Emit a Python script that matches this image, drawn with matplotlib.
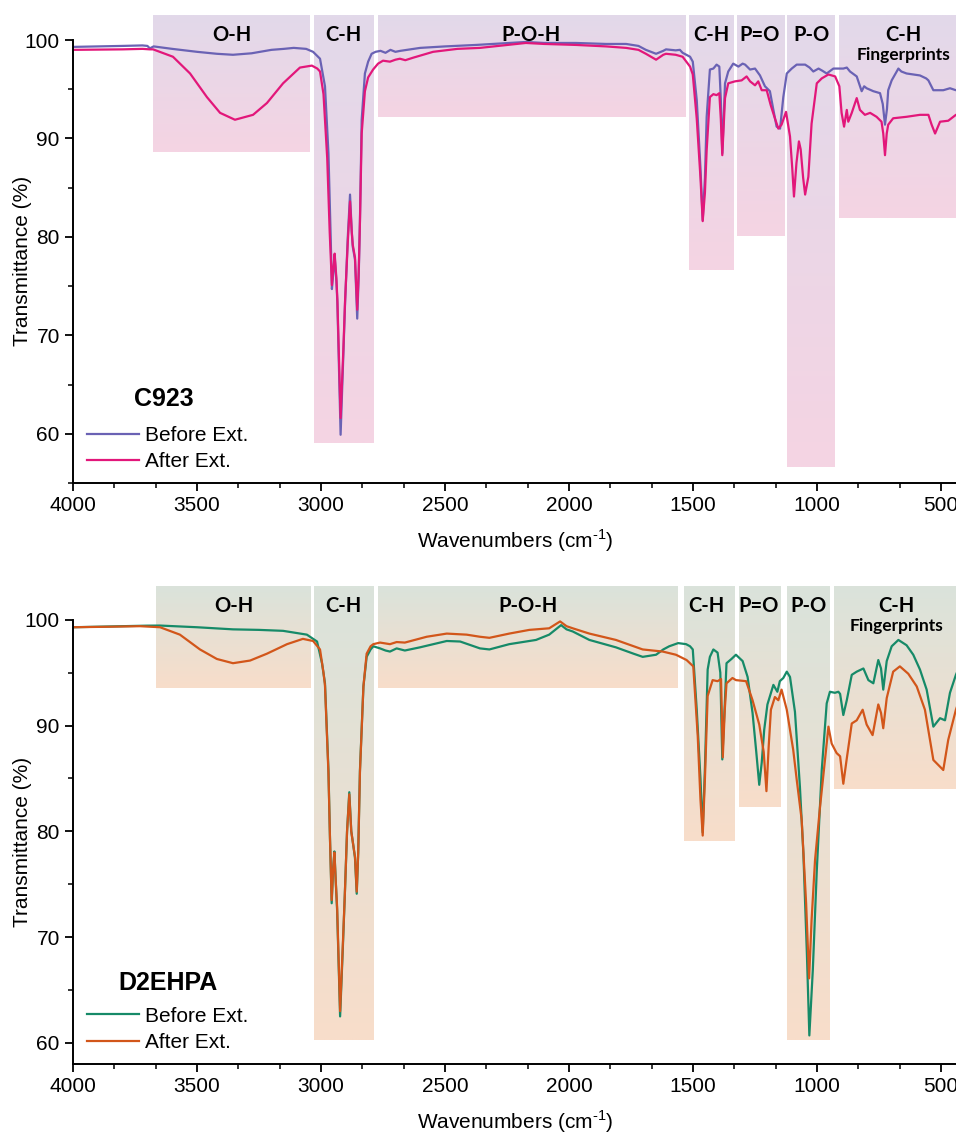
import numpy as np
import matplotlib
matplotlib.use("Agg")
import matplotlib.pyplot as plt
from matplotlib.ticker import MultipleLocator, AutoMinorLocator
from matplotlib.colors import to_rgb

plt.rcParams['font.family'] = ['Liberation Sans', 'DejaVu Sans']
plt.rcParams['mathtext.fontset'] = 'custom'
plt.rcParams['mathtext.rm'] = 'Liberation Sans'

# ---- C923 spectra (wavenumber, transmittance) ----
c923_before_wn = [4000, 3900, 3800, 3720, 3700, 3690, 3675, 3600, 3500, 3420, 3355, 3280, 3200, 3150,
                  3110, 3060, 3032, 3004, 2984, 2970, 2961, 2956, 2950, 2945, 2938, 2934, 2921, 2910,
                  2903, 2892, 2883, 2876, 2872, 2863, 2854, 2848, 2843, 2836, 2823, 2810, 2796, 2780,
                  2760, 2740, 2720, 2700, 2680, 2600, 2500, 2375, 2174, 2100, 1972, 1850, 1770, 1720,
                  1690, 1649, 1620, 1609, 1570, 1553, 1542, 1512, 1501, 1485, 1470, 1461, 1452, 1445,
                  1432, 1418, 1405, 1394, 1388, 1382, 1375, 1371, 1358, 1338, 1317, 1300, 1290, 1270,
                  1250, 1230, 1210, 1190, 1176, 1163, 1149, 1136, 1122, 1102, 1082, 1048, 1030, 1015,
                  994, 980, 961, 934, 894, 880, 867, 840, 820, 810, 800, 773, 746, 735, 726, 718, 713,
                  699, 672, 660, 639, 585, 560, 551, 531, 491, 464, 440, 425]
c923_before_t = [99.3, 99.35, 99.4, 99.45, 99.4, 99.15, 99.35, 99.1, 98.8, 98.6, 98.5, 98.65, 99.0, 99.1,
                 99.2, 99.1, 98.8, 98.1, 95.3, 88.5, 80.0, 74.7, 76.5, 78.0, 75.5, 73.3, 59.9, 68.0,
                 73.3, 80.0, 84.3, 80.5, 79.0, 77.7, 71.7, 76.0, 81.7, 91.9, 96.6, 97.8, 98.6, 98.8,
                 98.9, 98.7, 99.0, 98.8, 98.9, 99.2, 99.35, 99.5, 99.8, 99.7, 99.7, 99.6, 99.6, 99.4,
                 99.0, 98.6, 98.9, 99.05, 98.95, 99.0, 98.7, 98.3, 97.8, 93.9, 87.0, 81.7, 86.0, 92.2,
                 97.0, 97.1, 97.5, 97.3, 94.0, 88.5, 93.0, 95.6, 96.8, 97.6, 97.3, 97.6, 97.5, 97.0,
                 97.1, 96.4, 95.3, 94.8, 92.9, 91.2, 91.0, 94.2, 96.6, 97.1, 97.5, 97.5, 97.2, 96.8,
                 97.1, 96.9, 96.6, 97.1, 97.1, 97.2, 96.8, 96.3, 94.8, 95.3, 95.1, 94.8, 94.6, 93.5,
                 91.4, 93.0, 94.9, 95.9, 97.1, 96.8, 96.6, 96.4, 96.1, 95.9, 94.9, 94.9, 95.1, 94.9, 95.0]

c923_after_wn = [4000, 3800, 3720, 3690, 3677, 3597, 3528, 3460, 3407, 3347, 3274, 3218, 3153, 3085,
                 3037, 3015, 3004, 2990, 2975, 2965, 2956, 2950, 2945, 2938, 2934, 2921, 2910, 2903,
                 2892, 2883, 2876, 2872, 2863, 2854, 2848, 2843, 2836, 2823, 2810, 2790, 2770, 2750,
                 2722, 2700, 2682, 2660, 2629, 2548, 2450, 2359, 2174, 2100, 1972, 1850, 1770, 1720,
                 1690, 1649, 1620, 1609, 1570, 1542, 1512, 1501, 1485, 1470, 1461, 1452, 1445, 1432,
                 1418, 1405, 1394, 1388, 1382, 1375, 1371, 1358, 1331, 1304, 1284, 1270, 1250, 1237,
                 1223, 1203, 1187, 1170, 1156, 1143, 1125, 1109, 1100, 1093, 1083, 1073, 1066, 1056,
                 1048, 1035, 1022, 1001, 981, 954, 927, 910, 901, 891, 880, 874, 860, 840, 827, 807,
                 786, 760, 740, 733, 726, 719, 713, 693, 639, 585, 551, 538, 524, 504, 471, 440, 425]
c923_after_t = [99.0, 99.05, 99.1, 99.05, 99.05, 98.3, 96.6, 94.2, 92.6, 91.9, 92.4, 93.6, 95.6, 97.2,
                97.4, 97.1, 96.8, 94.5, 88.0, 80.5, 75.1, 77.0, 78.3, 75.8, 73.6, 61.6, 68.5, 73.5,
                79.5, 83.6, 80.5, 79.2, 77.9, 72.6, 76.5, 81.5, 90.5, 94.8, 96.2, 97.0, 97.6, 97.9,
                97.8, 98.0, 98.1, 97.95, 98.2, 98.8, 99.1, 99.2, 99.7, 99.6, 99.5, 99.35, 99.2, 99.0,
                98.6, 98.0, 98.5, 98.6, 98.5, 98.3, 97.3, 96.5, 92.0, 86.0, 81.6, 84.5, 88.8, 94.2,
                94.5, 94.4, 94.6, 92.0, 88.3, 92.0, 94.1, 95.6, 95.8, 95.9, 96.3, 95.8, 95.4, 95.8,
                94.9, 94.9, 93.4, 92.05, 91.0, 91.4, 92.7, 90.2, 87.0, 84.1, 87.5, 89.7, 88.9, 86.0,
                84.3, 86.1, 91.5, 95.6, 96.1, 96.5, 96.3, 95.3, 92.6, 91.2, 92.9, 91.7, 92.6, 94.1,
                92.9, 92.4, 92.6, 92.2, 91.7, 90.5, 88.3, 90.5, 91.4, 92.05, 92.2, 92.4, 92.4, 91.4,
                90.5, 91.7, 91.8, 92.4, 92.5]

# ---- D2EHPA spectra ----
d2_before_wn = [4000, 3900, 3800, 3700, 3649, 3500, 3355, 3250, 3153, 3057, 3016, 2996, 2984, 2970,
                2964, 2957, 2951, 2946, 2940, 2935, 2923, 2912, 2904, 2895, 2886, 2878, 2870, 2863,
                2856, 2850, 2843, 2829, 2816, 2800, 2789, 2762, 2740, 2722, 2695, 2662, 2601, 2493,
                2439, 2359, 2321, 2241, 2133, 2080, 2032, 2010, 1985, 1918, 1811, 1740, 1703, 1649,
                1620, 1596, 1560, 1528, 1512, 1501, 1485, 1470, 1461, 1452, 1441, 1432, 1418, 1401,
                1390, 1382, 1372, 1365, 1345, 1327, 1300, 1280, 1260, 1245, 1233, 1223, 1213, 1200,
                1176, 1160, 1150, 1136, 1122, 1109, 1089, 1069, 1055, 1041, 1031, 1017, 1001, 981,
                961, 948, 928, 914, 907, 894, 880, 860, 840, 813, 793, 773, 753, 742, 733, 719, 699,
                672, 639, 612, 585, 558, 531, 504, 484, 464, 440, 425]
d2_before_t = [99.3, 99.35, 99.4, 99.45, 99.46, 99.3, 99.1, 99.05, 98.96, 98.6, 97.95, 95.9, 94.0, 85.8,
               79.5, 73.2, 76.5, 78.1, 75.0, 72.5, 62.5, 69.0, 74.0, 80.0, 83.7, 80.0, 78.7, 77.5,
               74.1, 78.0, 85.8, 93.7, 96.5, 97.2, 97.5, 97.3, 97.1, 97.0, 97.3, 97.1, 97.4, 98.0,
               97.95, 97.3, 97.2, 97.7, 98.1, 98.6, 99.5, 99.1, 98.9, 98.1, 97.4, 96.8, 96.5, 96.7,
               97.2, 97.5, 97.8, 97.7, 97.5, 97.2, 91.5, 85.0, 79.9, 86.0, 95.3, 96.5, 97.2, 96.9,
               95.0, 86.8, 92.0, 95.9, 96.3, 96.7, 96.1, 94.6, 91.2, 87.5, 84.4, 86.5, 89.6, 92.0,
               93.85, 93.2, 94.2, 94.5, 95.1, 94.6, 91.3, 84.2, 77.9, 68.5, 60.7, 66.9, 76.3, 85.8,
               92.1, 93.2, 93.1, 93.2, 93.0, 91.0, 92.4, 94.8, 95.1, 95.4, 94.3, 94.0, 96.2, 95.4,
               93.4, 96.1, 97.5, 98.1, 97.6, 96.7, 95.3, 93.4, 89.9, 90.7, 90.5, 93.1, 94.8, 95.6]

d2_after_wn = [4000, 3850, 3730, 3649, 3569, 3488, 3420, 3355, 3286, 3218, 3137, 3073, 3032, 3004,
               2990, 2984, 2970, 2964, 2957, 2951, 2946, 2940, 2935, 2923, 2912, 2904, 2895, 2886,
               2878, 2870, 2863, 2856, 2850, 2843, 2829, 2816, 2800, 2789, 2762, 2722, 2695, 2662,
               2574, 2493, 2413, 2359, 2321, 2241, 2160, 2080, 2036, 2010, 1985, 1918, 1811, 1703,
               1622, 1569, 1526, 1499, 1481, 1470, 1461, 1452, 1441, 1421, 1401, 1387, 1380, 1372,
               1365, 1341, 1327, 1286, 1260, 1233, 1215, 1204, 1195, 1186, 1170, 1156, 1143, 1122,
               1096, 1082, 1062, 1044, 1032, 1022, 1008, 988, 968, 954, 941, 921, 907, 894, 880, 860,
               840, 816, 800, 776, 753, 742, 733, 719, 693, 666, 632, 598, 565, 531, 491, 471, 440,
               425]
d2_after_t = [99.3, 99.35, 99.4, 99.3, 98.6, 97.2, 96.3, 95.9, 96.15, 96.8, 97.7, 98.2, 98.0, 97.2,
              95.0, 93.8, 85.5, 79.5, 73.5, 76.5, 78.0, 75.0, 72.8, 63.0, 69.3, 74.0, 80.0, 83.5,
              80.0, 78.7, 77.6, 74.3, 78.0, 85.6, 93.7, 96.8, 97.5, 97.7, 97.85, 97.7, 97.9, 97.85,
              98.4, 98.7, 98.6, 98.4, 98.3, 98.7, 99.05, 99.2, 99.85, 99.4, 99.2, 98.7, 98.1, 97.2,
              97.0, 96.7, 96.2, 95.6, 89.0, 83.0, 79.6, 85.0, 92.8, 94.3, 94.2, 94.4, 87.0, 91.5,
              94.0, 94.5, 94.3, 94.2, 92.4, 90.1, 87.5, 83.8, 88.0, 91.5, 92.7, 92.4, 93.4, 91.5,
              87.7, 84.9, 81.1, 73.2, 66.1, 71.6, 77.3, 82.3, 86.75, 89.9, 88.3, 87.4, 87.1, 84.5,
              86.9, 90.2, 90.5, 91.5, 90.1, 89.1, 92.0, 91.2, 89.75, 92.6, 95.1, 95.6, 94.9, 93.7,
              91.5, 86.75, 85.8, 88.65, 91.5, 92.5]

# ---- shaded band regions: labels, wavenumber edges, lower edge, label position ----
band_labels = ['O-H', 'C-H', 'P-O-H', 'C-H', 'P=O', 'P-O', 'C-H']
c923_band_left = [3677, 3028, 2770, 1516, 1323, 1121, 911]
c923_band_right = [3044, 2788, 1532, 1335, 1133, 928, 300]
c923_band_bottom = [88.6, 59.1, 92.2, 76.65, 80.1, 56.6, 81.96]
c923_label_x = [3360, 2911, 2153, 1427, 1230, 1024, 653]

d2_band_left = [3667, 3028, 2769, 1538, 1313, 1121, 933]
d2_band_right = [3046, 2788, 1561, 1336, 1145, 951, 300]
d2_band_bottom = [93.6, 60.3, 93.6, 79.1, 82.3, 60.3, 84.0]
d2_label_x = [3350, 2911, 2167, 1448, 1235, 1034, 679]

LABEL_FONT = ['Lato', 'DejaVu Sans']


def shade_band(ax, x0, x1, y0, y1, c_top, c_bot):
    g = np.linspace(0, 1, 128)[:, None, None]
    img = np.array(to_rgb(c_top))[None, None, :] * (1 - g) + np.array(to_rgb(c_bot))[None, None, :] * g
    ax.imshow(img, extent=(x0, x1, y0, y1), origin='upper', aspect='auto',
              zorder=0, interpolation='bilinear')


def draw_panel(ax, before, after, colors, bands, ylim, title, title_pos, band_top,
               label_y, fp_y, shade_cols, ylabel_y):
    lefts, rights, bottoms, lab_x = bands
    for x0, x1, yb in zip(lefts, rights, bottoms):
        shade_band(ax, x0, x1, yb, band_top, *shade_cols)
    for lab, xl in zip(band_labels, lab_x):
        ax.text(xl, label_y, lab, ha='center', va='center', fontsize=14.5,
                fontweight='bold', family=LABEL_FONT, zorder=3)
    ax.text(lab_x[-1], fp_y, 'Fingerprints', ha='center', va='center', fontsize=12.5,
            fontweight='bold', family=LABEL_FONT, zorder=3)

    ax.plot(before[0], before[1], color=colors[0], lw=1.6, label='Before Ext.', zorder=2)
    ax.plot(after[0], after[1], color=colors[1], lw=1.6, label='After Ext.', zorder=2)

    for side in ('top', 'right'):
        ax.spines[side].set_visible(False)
    for side in ('left', 'bottom'):
        ax.spines[side].set_linewidth(1.4)
    ax.set_yticks(np.arange(60, 101, 10))
    ax.xaxis.set_major_locator(MultipleLocator(500))
    ax.xaxis.set_minor_locator(AutoMinorLocator(3))
    ax.yaxis.set_minor_locator(AutoMinorLocator(2))
    ax.set_xlim(4000, 430)
    ax.set_ylim(ylim[0], band_top)
    ax.spines['left'].set_bounds(ylim[0], 100)
    ax.tick_params(which='major', direction='out', length=6, width=1.3, labelsize=15)
    ax.tick_params(which='minor', direction='out', length=3.5, width=1.1)
    ax.set_xlabel('Wavenumbers (cm$^{\\text{-}1}$)', fontsize=15, labelpad=9)
    ax.set_ylabel('Transmittance (%)', fontsize=15)
    ax.yaxis.set_label_coords(-0.046, ylabel_y)

    ax.text(title_pos[0], title_pos[1], title, transform=ax.transAxes, ha='center',
            va='center', fontsize=18, fontweight='bold', zorder=4)
    leg = ax.legend(loc='lower left', bbox_to_anchor=(0.016, 0.025),
                    frameon=False, fontsize=15, handlelength=2.5, handletextpad=0.3,
                    labelspacing=0.35, borderpad=0, borderaxespad=0)
    leg.set_zorder(4)


fig = plt.figure(figsize=(9.56, 11.35), dpi=100)
W, H = 956, 1135
ax1 = fig.add_axes([73 / W, 1 - 483 / H, 885.4 / W, (483 - 15.4) / H])
ax2 = fig.add_axes([73 / W, 1 - 1064 / H, 885.4 / W, (1064 - 586) / H])

draw_panel(ax1, (c923_before_wn, c923_before_t), (c923_after_wn, c923_after_t),
           ('#6a62b4', '#e2177a'),
           (c923_band_left, c923_band_right, c923_band_bottom, c923_label_x),
           (55, 100), 'C923', (0.1028, 0.1796), 102.5, 100.5, 98.5,
           ('#e2d9ea', '#f5d4e3'), 0.475)
draw_panel(ax2, (d2_before_wn, d2_before_t), (d2_after_wn, d2_after_t),
           ('#168a68', '#d2561a'),
           (d2_band_left, d2_band_right, d2_band_bottom, d2_label_x),
           (58, 100), 'D2EHPA', (0.1073, 0.1695), 103.2, 101.3, 99.4,
           ('#dae3db', '#f8ddca'), 0.464)

fig.savefig('out.png', dpi=100)
